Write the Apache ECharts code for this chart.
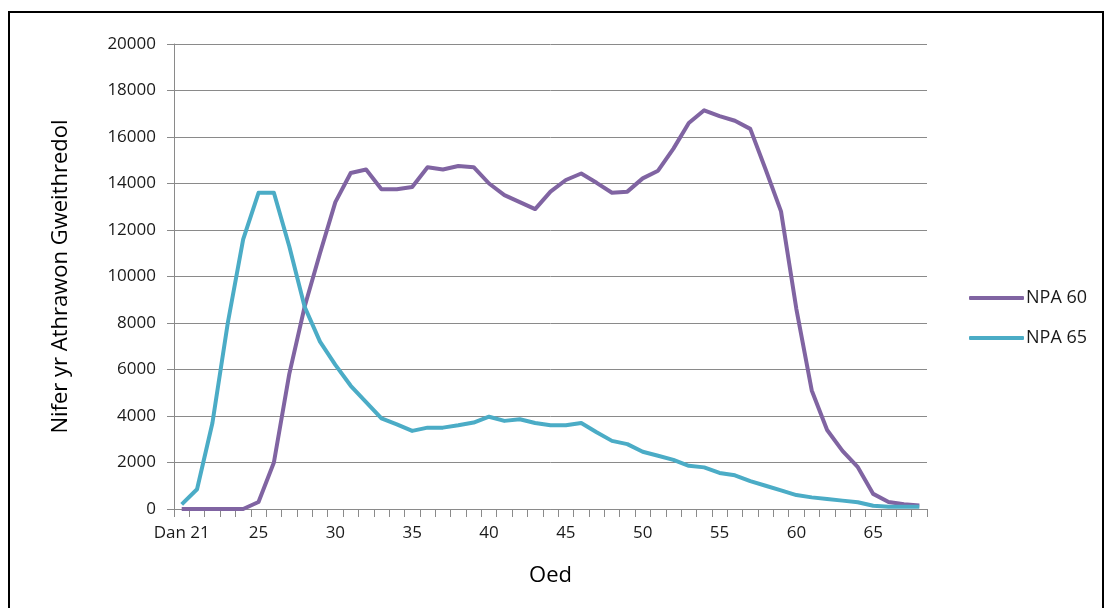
<!DOCTYPE html>
<html>
<head>
<meta charset="utf-8">
<script src="https://cdn.jsdelivr.net/npm/echarts@6/dist/echarts.min.js"></script>
<style>
  html, body { margin: 0; padding: 0; background: #ffffff; }
  #chart { width: 1108px; height: 608px; }
</style>
</head>
<body>
<div id="chart"></div>
<script>
// Age bands: under 21, then single years 21..68
const ages = ['Dan 21'];
for (let a = 21; a <= 68; a++) ages.push(String(a));

// Number of active teachers by age, normal pension age 60
const npa60 = [
  0, 0, 0, 0, 0, 300, 2000, 5800, 8700, 11000,
  13200, 14450, 14600, 13750, 13750, 13850, 14700, 14600, 14750, 14700,
  14000, 13500, 13200, 12900, 13650, 14150, 14430, 14030, 13600, 13650,
  14220, 14550, 15500, 16600, 17150, 16900, 16700, 16350, 14600, 12800,
  8600, 5100, 3400, 2500, 1800, 650, 300, 200, 150
];

// Number of active teachers by age, normal pension age 65
const npa65 = [
  200, 850, 3700, 8000, 11600, 13600, 13600, 11300, 8700, 7200,
  6200, 5300, 4600, 3900, 3640, 3360, 3500, 3500, 3600, 3720,
  3970, 3790, 3860, 3700, 3600, 3600, 3700, 3300, 2930, 2790,
  2460, 2290, 2110, 1860, 1790, 1550, 1450, 1200, 1000, 800,
  600, 500, 430, 360, 290, 140, 100, 100, 100
];

const seriesNames = ['NPA 60', 'NPA 65'];
const yTitle = 'Nifer yr Athrawon Gweithredol';
const xTitle = 'Oed';

const font = '"Open Sans", "Liberation Sans", sans-serif';
const gridGrey = '#8a8a8a';

const chart = echarts.init(document.getElementById('chart'), null, { renderer: 'canvas' });
chart.setOption({
  backgroundColor: '#ffffff',
  animation: false,
  graphic: [{
    type: 'rect',
    shape: { x: 9, y: 12, width: 1094, height: 620 },
    style: { fill: 'none', stroke: '#000000', lineWidth: 2 },
    silent: true
  }],
  grid: { left: 174, right: 181, top: 44, bottom: 99 },
  legend: {
    orient: 'vertical',
    left: 964,
    top: 283,
    itemWidth: 55,
    itemHeight: 4,
    itemGap: 20,
    icon: 'roundRect',
    textStyle: { fontFamily: font, fontSize: 18, color: '#1a1a1a', lineHeight: 20, padding: [0, 0, 0, -3] },
    data: seriesNames
  },
  xAxis: {
    type: 'category',
    data: ages,
    boundaryGap: true,
    name: xTitle,
    nameLocation: 'middle',
    nameGap: 56,
    nameTextStyle: { fontFamily: font, fontSize: 22, color: '#000000' },
    axisLine: { lineStyle: { color: gridGrey, width: 1 } },
    axisTick: { show: true, interval: 0, length: 8, lineStyle: { color: gridGrey } },
    axisLabel: {
      interval: 4,
      margin: 16,
      fontFamily: font,
      fontSize: 17,
      color: '#1a1a1a'
    },
    splitLine: { show: false }
  },
  yAxis: {
    type: 'value',
    min: 0,
    max: 20000,
    interval: 2000,
    name: yTitle,
    nameLocation: 'middle',
    nameRotate: 90,
    nameGap: 102,
    nameTextStyle: { fontFamily: font, fontSize: 22, color: '#000000' },
    axisLine: { show: true, lineStyle: { color: gridGrey, width: 1 } },
    axisTick: { show: true, length: 7, lineStyle: { color: gridGrey } },
    axisLabel: {
      margin: 18,
      fontFamily: font,
      fontSize: 17,
      color: '#1a1a1a',
      formatter: (v) => String(v)
    },
    splitLine: { show: true, lineStyle: { color: gridGrey, width: 1 } }
  },
  series: [
    {
      name: seriesNames[0],
      type: 'line',
      data: npa60,
      symbol: 'none',
      lineStyle: { color: '#8064A2', width: 4, join: 'round' },
      itemStyle: { color: '#8064A2' }
    },
    {
      name: seriesNames[1],
      type: 'line',
      data: npa65,
      symbol: 'none',
      lineStyle: { color: '#4BACC6', width: 4, join: 'round' },
      itemStyle: { color: '#4BACC6' }
    }
  ]
});
</script>
</body>
</html>
